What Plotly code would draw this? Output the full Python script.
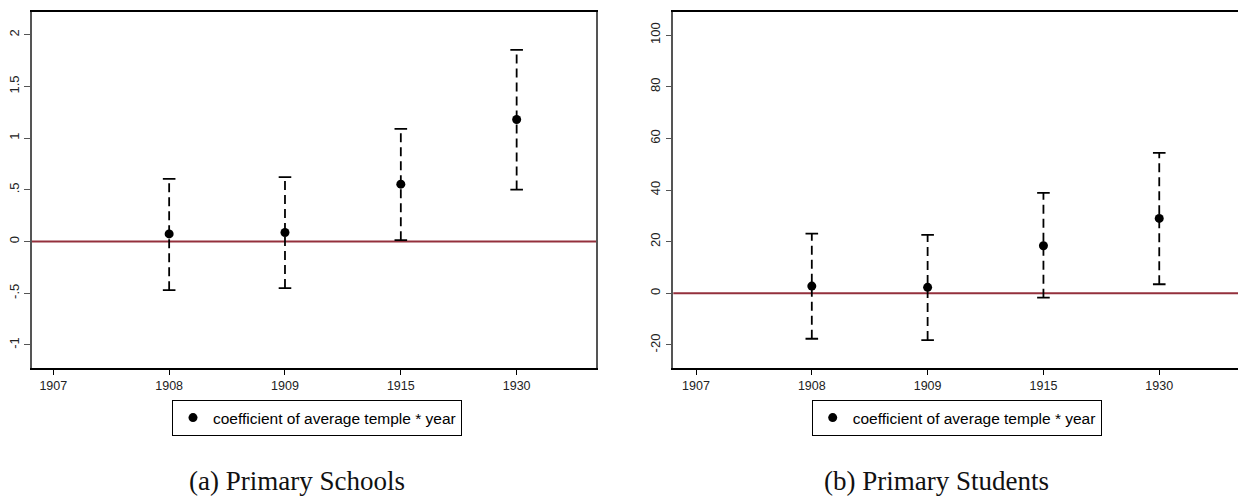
import plotly.graph_objects as go

# ---- data ----
years = ["1907", "1908", "1909", "1915", "1930"]
est_years = ["1908", "1909", "1915", "1930"]

schools_coef = [0.074, 0.087, 0.555, 1.18]
schools_lo = [-0.47, -0.45, 0.013, 0.503]
schools_hi = [0.606, 0.623, 1.09, 1.854]

students_coef = [2.8, 2.3, 18.4, 29.0]
students_lo = [-17.6, -18.1, -1.7, 3.5]
students_hi = [23.1, 22.6, 38.9, 54.4]

legend_label = "coefficient of average temple * year"
captions = ["(a) Primary Schools", "(b) Primary Students"]

schools_ticks = [-1, -0.5, 0, 0.5, 1, 1.5, 2]
schools_ticktext = ["-1", "-.5", "0", ".5", "1", "1.5", "2"]
students_ticks = [-20, 0, 20, 40, 60, 80, 100]
students_ticktext = ["-20", "0", "20", "40", "60", "80", "100"]

W, H = 1238, 496
fig = go.Figure()

def add_panel(fig, coef, lo, hi, xa, ya, legend_name):
    # dashed CI segments
    xs, ys = [], []
    for x, l, h in zip(est_years, lo, hi):
        xs += [x, x, None]
        ys += [l, h, None]
    fig.add_trace(go.Scatter(
        x=xs, y=ys, mode="lines", xaxis=xa, yaxis=ya,
        line=dict(color="black", width=1.8, dash="9px,5px"),
        showlegend=False, hoverinfo="skip"))
    # caps
    fig.add_trace(go.Scatter(
        x=est_years + est_years, y=lo + hi, mode="markers", xaxis=xa, yaxis=ya,
        marker=dict(symbol="line-ew", size=9, color="black",
                    line=dict(color="black", width=1.8)),
        showlegend=False, hoverinfo="skip"))
    # point estimates
    fig.add_trace(go.Scatter(
        x=est_years, y=coef, mode="markers", xaxis=xa, yaxis=ya,
        marker=dict(symbol="circle", size=9, color="black"),
        name=legend_label, legend=legend_name, showlegend=True))

add_panel(fig, schools_coef, schools_lo, schools_hi, "x", "y", "legend")
add_panel(fig, students_coef, students_lo, students_hi, "x2", "y2", "legend2")

ydom = [(H - 367.7) / H, (H - 12.3) / H]
xtickfont = dict(family="Liberation Sans, Arial, sans-serif", size=12.5, color="#222")
ytickfont = dict(family="Liberation Sans, Arial, sans-serif", size=13, color="#222")

xcommon = dict(type="category", categoryorder="array", categoryarray=years,
               showline=True, mirror=True, linecolor="black", linewidth=1.5,
               ticks="outside", ticklen=6, tickcolor="black", tickwidth=1,
               showgrid=False, zeroline=False, tickfont=xtickfont, fixedrange=True,
               automargin=False)
ycommon = dict(showline=True, mirror=True, linecolor="#555", linewidth=1.5,
               ticks="outside", ticklen=6, tickcolor="#555", tickwidth=1,
               tickangle=-90, showgrid=False, zeroline=False, tickfont=ytickfont,
               automargin=False, fixedrange=True)

legfont = dict(family="Liberation Sans, Arial, sans-serif", size=15.5, color="black")

fig.update_layout(
    width=W, height=H,
    margin=dict(l=0, r=0, t=0, b=0, autoexpand=False),
    paper_bgcolor="white", plot_bgcolor="white",
    xaxis=dict(domain=[32 / W, 596 / W], range=[-0.184, 4.685], anchor="y", **xcommon),
    yaxis=dict(domain=ydom, range=[-1.22, 2.217], anchor="x",
               tickvals=schools_ticks, ticktext=schools_ticktext, **ycommon),
    xaxis2=dict(domain=[673.3 / W, 1.0], range=[-0.196, 4.68], anchor="y2", **xcommon),
    yaxis2=dict(domain=ydom, range=[-28.8, 108.8], anchor="x2",
                tickvals=students_ticks, ticktext=students_ticktext, **ycommon),
    legend=dict(x=172 / W, y=(H - 400) / H, xanchor="left", yanchor="top",
                bordercolor="black", borderwidth=1, bgcolor="white",
                font=legfont, itemwidth=30, tracegroupgap=0),
    legend2=dict(x=811.7 / W, y=(H - 400) / H, xanchor="left", yanchor="top",
                 bordercolor="black", borderwidth=1, bgcolor="white",
                 font=legfont, itemwidth=30, tracegroupgap=0),
    showlegend=True,
)

# zero reference lines
for xr, yr in [("x", "y"), ("x2", "y2")]:
    fig.add_shape(type="line", xref=f"{xr} domain", yref=yr, x0=0, x1=1, y0=0, y1=0,
                  line=dict(color="#94303c", width=2), layer="below")

# captions
for cx, text in zip([296.5 / W, 936.5 / W], captions):
    fig.add_annotation(x=cx, y=(H - 481) / H, xref="paper", yref="paper",
                       text=text, showarrow=False, xanchor="center", yanchor="middle",
                       font=dict(family="Liberation Serif, Times New Roman, serif", size=27, color="#111"))

fig.write_html(
    "out.html",
    config={"displayModeBar": False},
    post_script="document.body.style.margin='0';document.body.style.overflow='hidden';"
                "document.documentElement.style.overflow='hidden';",
)
